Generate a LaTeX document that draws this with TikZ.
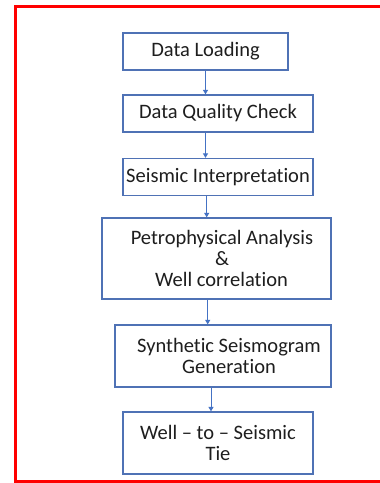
\documentclass[tikz,border=0pt]{standalone}
\usepackage{fontspec}
\setmainfont{Carlito}[Ligatures={NoCommon}]
\usetikzlibrary{arrows.meta}
\definecolor{boxblue}{HTML}{4F72B5}
\definecolor{arrblue}{HTML}{4472C4}
\definecolor{txt}{HTML}{1E1E1E}
\definecolor{frame}{HTML}{FF0000}
\begin{document}
\begin{tikzpicture}[x=1pt,y=-1pt,
  stepbox/.style={draw=boxblue,line width=1.3pt,rectangle,inner sep=0pt,
    text=txt,align=center,font=\fontsize{20.5}{21}\selectfont},
  arr/.style={draw=arrblue,line width=1pt,-{Triangle[width=5pt,length=4.5pt]}}]
\useasboundingbox (0,0) rectangle (380,483);
\clip (0,0) rectangle (380,483);
\fill[white] (0,0) rectangle (380,483);
\draw[frame,line width=3pt] (15.5,6.5) rectangle (395,481.5);
\node[stepbox,minimum width=165pt,minimum height=37pt] (b1) at (205.5,51.5) {Data Loading};
\node[stepbox,minimum width=190pt,minimum height=37pt] (b2) at (218,113.5) {Data Quality Check};
\node[stepbox,minimum width=190pt,minimum height=37pt] (b3) at (218,177) {Seismic Interpretation};
\node[stepbox,minimum width=229pt,minimum height=81pt] (b4) at (216.5,258.5) {\hspace*{11pt}Petrophysical Analysis\\\hspace*{11pt}\&\\\hspace*{10pt}Well correlation};
\node[stepbox,minimum width=216pt,minimum height=62pt] (b5) at (223,356) {\hspace*{12pt}Synthetic Seismogram\\\hspace*{12pt}Generation};
\node[stepbox,minimum width=190pt,minimum height=62pt] (b6) at (218,443) {Well -- to -- Seismic\\Tie};
\draw[arr] (b1.south -| 205.5,0) -- (b2.north -| 205.5,0);
\draw[arr] (b2.south -| 205.5,0) -- (b3.north -| 205.5,0);
\draw[arr] (b3.south -| 206.7,0) -- (b4.north -| 206.7,0);
\draw[arr] (b4.south -| 207.7,0) -- (b5.north -| 207.7,0);
\draw[arr] (b5.south -| 211,0) -- (b6.north -| 211,0);
\end{tikzpicture}
\end{document}
